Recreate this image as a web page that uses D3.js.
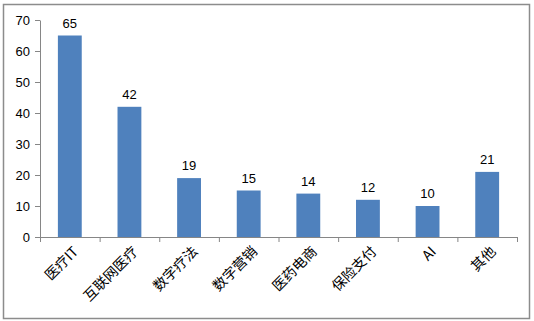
<!DOCTYPE html>
<html>
<head>
<meta charset="utf-8">
<script src="https://cdn.jsdelivr.net/npm/d3@7"></script>
<style>
  body { margin: 0; background: #fff; }
  svg text { font-family: "Liberation Sans", "Noto Sans", sans-serif; }
</style>
</head>
<body>
<svg id="chart" width="534" height="321"></svg>
<script>
// 数据
const categories = ['医疗IT', '互联网医疗', '数字疗法', '数字营销', '医药电商', '保险支付', 'AI', '其他'];
const values = [65, 42, 19, 15, 14, 12, 10, 21];
const yTicks = [0, 10, 20, 30, 40, 50, 60, 70];

const svg = d3.select('#chart');

// 外框
svg.append('rect')
  .attr('x', 3.5).attr('y', 4.5)
  .attr('width', 526).attr('height', 314)
  .attr('fill', '#fff')
  .attr('stroke', '#8c8c8c')
  .attr('stroke-width', 1.5);

const plot = { left: 40, right: 517, top: 20, bottom: 237 };

const x = d3.scaleBand()
  .domain(categories)
  .range([plot.left, plot.right])
  .paddingInner(0.6)
  .paddingOuter(0.3);

const y = d3.scaleLinear()
  .domain([0, 70])
  .range([plot.bottom, plot.top]);

// 柱子
svg.append('g').selectAll('rect')
  .data(values)
  .join('rect')
  .attr('x', (d, i) => x(categories[i]))
  .attr('y', d => y(d))
  .attr('width', x.bandwidth())
  .attr('height', d => y(0) - y(d))
  .attr('fill', '#4f81bd');

// 数值标签
svg.append('g').selectAll('text')
  .data(values)
  .join('text')
  .attr('x', (d, i) => x(categories[i]) + x.bandwidth() / 2)
  .attr('y', d => y(d) - 8)
  .attr('text-anchor', 'middle')
  .attr('font-size', '13px')
  .attr('fill', '#000')
  .text(d => d);

// Y轴
const yAxis = svg.append('g')
  .attr('transform', `translate(${plot.left},0)`)
  .call(d3.axisLeft(y).tickValues(yTicks).tickSize(5).tickSizeOuter(0));
yAxis.select('.domain').attr('stroke', '#868686');
yAxis.selectAll('.tick line').attr('stroke', '#868686');
yAxis.selectAll('.tick text')
  .attr('font-size', '13px')
  .attr('fill', '#000')
  .attr('x', -10);

// X轴 (刻度在分类边界)
const xStep = x.step();
const xBounds = d3.range(categories.length + 1).map(i => plot.left + i * (plot.right - plot.left) / categories.length);
svg.append('line')
  .attr('x1', plot.left).attr('x2', plot.right)
  .attr('y1', plot.bottom + 0.5).attr('y2', plot.bottom + 0.5)
  .attr('stroke', '#868686');
svg.append('g').selectAll('line')
  .data(xBounds)
  .join('line')
  .attr('x1', d => d + 0.5).attr('x2', d => d + 0.5)
  .attr('y1', plot.bottom).attr('y2', plot.bottom + 5)
  .attr('stroke', '#868686');

// 分类标签
svg.append('g').selectAll('text')
  .data(categories)
  .join('text')
  .attr('transform', d => `translate(${x(d) + x.bandwidth() / 2 + 6},${plot.bottom + 12}) rotate(-45)`)
  .attr('text-anchor', 'end')
  .attr('dy', '0.35em')
  .attr('font-size', '14px')
  .style('font-family', '"Noto Sans CJK SC", sans-serif')
  .attr('fill', '#000')
  .text(d => d);
</script>
</body>
</html>
